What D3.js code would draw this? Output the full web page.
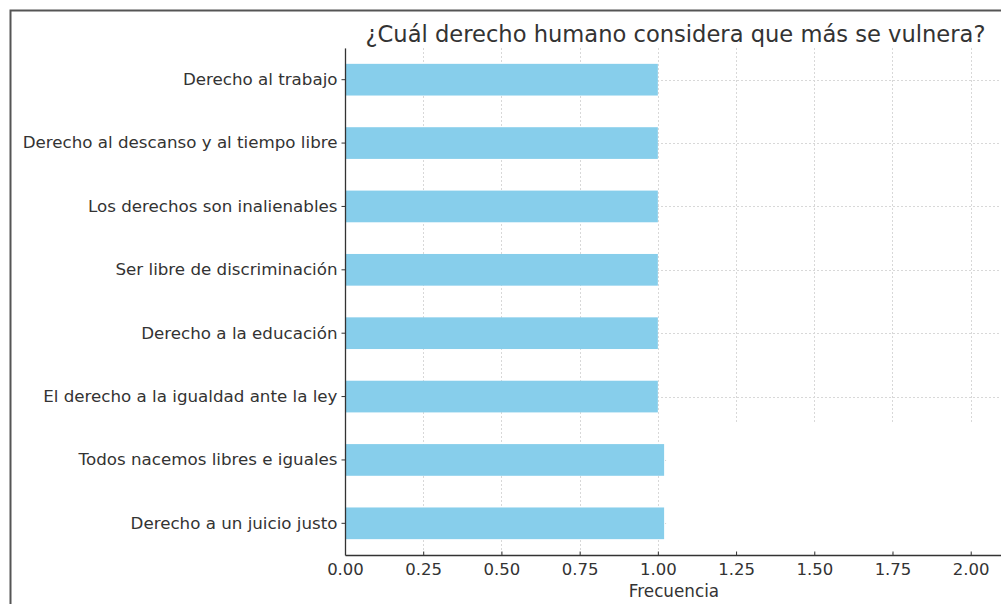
<!DOCTYPE html>
<html>
<head>
<meta charset="utf-8">
<script src="https://cdn.jsdelivr.net/npm/d3@7"></script>
<style>
  html, body { margin: 0; padding: 0; background: #fff; }
  svg { display: block; font-family: "DejaVu Sans", sans-serif; }
</style>
</head>
<body>
<svg id="chart" width="1001" height="604"></svg>
<script>
// Rights named in the survey, top to bottom
const categories = [
  "Derecho al trabajo",
  "Derecho al descanso y al tiempo libre",
  "Los derechos son inalienables",
  "Ser libre de discriminación",
  "Derecho a la educación",
  "El derecho a la igualdad ante la ley",
  "Todos nacemos libres e iguales",
  "Derecho a un juicio justo"
];
// How many answers named each right
const frequencies = [1, 1, 1, 1, 1, 1, 1.02, 1.02];
const xTicks = [0, 0.25, 0.5, 0.75, 1.0, 1.25, 1.5, 1.75, 2.0];
const xDomain = [0, 2.1];

const title = "¿Cuál derecho humano considera que más se vulnera?";
const xLabel = "Frecuencia";

const svg = d3.select("#chart");
const W = 1001, H = 604;
const plot = { left: 345, right: 1002, top: 48, bottom: 555 };

// Outer frame
svg.append("path")
  .attr("d", `M10.5,${H} V10.5 H${W}`)
  .attr("fill", "none")
  .attr("stroke", "#555")
  .attr("stroke-width", 2);

const x = d3.scaleLinear().domain(xDomain).range([plot.left, plot.right]);
const y = d3.scaleBand().domain(categories)
  .range([plot.top, plot.bottom])
  .paddingInner(0.5).paddingOuter(0.25);
const yc = d => y(d) + y.bandwidth() / 2;

// Dashed grid
const grid = svg.append("g").attr("stroke", "#d8d8d8").attr("stroke-width", 1)
  .attr("stroke-dasharray", "2,2");
grid.selectAll("line.v").data(xTicks).join("line")
  .attr("class", "v")
  .attr("x1", d => Math.round(x(d)) + 0.5).attr("x2", d => Math.round(x(d)) + 0.5)
  .attr("y1", plot.top).attr("y2", plot.bottom);
grid.selectAll("line.h").data(categories).join("line")
  .attr("class", "h")
  .attr("x1", plot.left).attr("x2", plot.right)
  .attr("y1", d => Math.round(yc(d)) + 0.5).attr("y2", d => Math.round(yc(d)) + 0.5);

// Blank lower-right patch of the panel
const patchTop = yc(categories[5]) + 27;
svg.append("rect")
  .attr("x", x(1.02) + 2).attr("y", patchTop)
  .attr("width", plot.right - x(1.02)).attr("height", plot.bottom - 2 - patchTop)
  .attr("fill", "#fff");

// Bars
svg.append("g").selectAll("rect").data(categories).join("rect")
  .attr("x", x(0))
  .attr("y", d => y(d))
  .attr("width", (d, i) => x(frequencies[i]) - x(0))
  .attr("height", y.bandwidth())
  .attr("fill", "#87CEEB");

// Axes
const xAxis = d3.axisBottom(x).tickValues(xTicks)
  .tickFormat(d3.format(".2f")).tickSizeInner(-3.5).tickSizeOuter(0).tickPadding(8);
const gx = svg.append("g").attr("transform", `translate(0,${plot.bottom})`).call(xAxis);
gx.select(".domain").attr("stroke", "#333").attr("stroke-width", 1.3);
gx.selectAll(".tick line").attr("stroke", "#333");
gx.selectAll(".tick text").attr("fill", "#333").attr("font-size", 16.5)
  .attr("font-family", "DejaVu Sans");

const yAxis = d3.axisLeft(y).tickSizeInner(3.5).tickSizeOuter(0).tickPadding(4);
const gy = svg.append("g").attr("transform", `translate(${plot.left},0)`).call(yAxis);
gy.select(".domain").attr("stroke", "#333").attr("stroke-width", 1.3);
gy.selectAll(".tick line").attr("stroke", "#333");
gy.selectAll(".tick text").attr("fill", "#333").attr("font-size", 16.7)
  .attr("font-family", "DejaVu Sans");

// Title and axis label
svg.append("text")
  .attr("x", 675.5).attr("y", 42)
  .attr("text-anchor", "middle")
  .attr("font-size", 22.6).attr("fill", "#333")
  .text(title);

svg.append("text")
  .attr("x", 674).attr("y", 597)
  .attr("text-anchor", "middle")
  .attr("font-size", 16.8).attr("fill", "#333")
  .text(xLabel);
</script>
</body>
</html>
